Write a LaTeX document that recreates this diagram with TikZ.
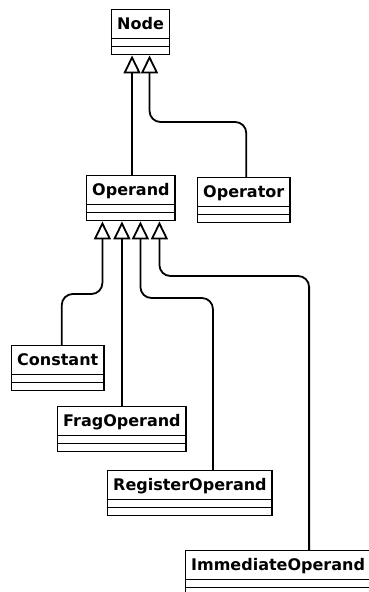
\documentclass[tikz,border=0pt]{standalone}
\usepackage{fontspec}
\setmainfont{DejaVu Sans}
\usetikzlibrary{arrows.meta}

\begin{document}
\begin{tikzpicture}[
  x=1pt, y=-1pt,
  every node/.style={font=\fontsize{16pt}{19pt}\selectfont\bfseries},
  umlclass/.style={draw, line width=1.4pt, anchor=north west,
    inner xsep=5.5pt, inner ysep=4pt, text height=16pt, text depth=21pt,
    path picture={
      \draw[line width=1.4pt]
        ([yshift=8pt]path picture bounding box.south west) -- ([yshift=8pt]path picture bounding box.south east)
        ([yshift=16pt]path picture bounding box.south west) -- ([yshift=16pt]path picture bounding box.south east);
    }},
  inherit/.style={-{Triangle[open, length=18pt, width=17pt]}, line width=1.8pt, rounded corners=11pt},
]
  \useasboundingbox (0,0) rectangle (368,592);

  \node[umlclass] (Node) at (111,9) {Node};
  \node[umlclass] (Operand) at (86,175) {Operand};
  \node[umlclass] (Operator) at (197,177) {Operator};
  \node[umlclass] (Constant) at (11,345) {Constant};
  \node[umlclass] (FragOperand) at (57,406) {FragOperand};
  \node[umlclass] (RegisterOperand) at (107,470) {RegisterOperand};
  \node[umlclass] (ImmediateOperand) at (185,550) {ImmediateOperand};

  % attachment points under the base classes
  \coordinate (node-a) at ([xshift=-8.5pt]Node.south);
  \coordinate (node-b) at ([xshift=9pt]Node.south);
  \coordinate (op-a) at ([xshift=-28.5pt]Operand.south);
  \coordinate (op-b) at ([xshift=-9pt]Operand.south);
  \coordinate (op-c) at ([xshift=9.5pt]Operand.south);
  \coordinate (op-d) at ([xshift=28.5pt]Operand.south);

  \draw[inherit] (node-a |- Operand.north) -- (node-a);
  \draw[inherit] ([xshift=2.5pt]Operator.north) |- (node-b |- 0,122) -- (node-b);

  \draw[inherit] ([xshift=4pt]Constant.north) |- (op-a |- 0,294) -- (op-a);
  \draw[inherit] (op-b |- FragOperand.north) -- (op-b);
  \draw[inherit] ([xshift=23pt]RegisterOperand.north) |- (op-c |- 0,298) -- (op-c);
  \draw[inherit] ([xshift=31pt]ImmediateOperand.north) |- (op-d |- 0,276) -- (op-d);
\end{tikzpicture}
\end{document}
